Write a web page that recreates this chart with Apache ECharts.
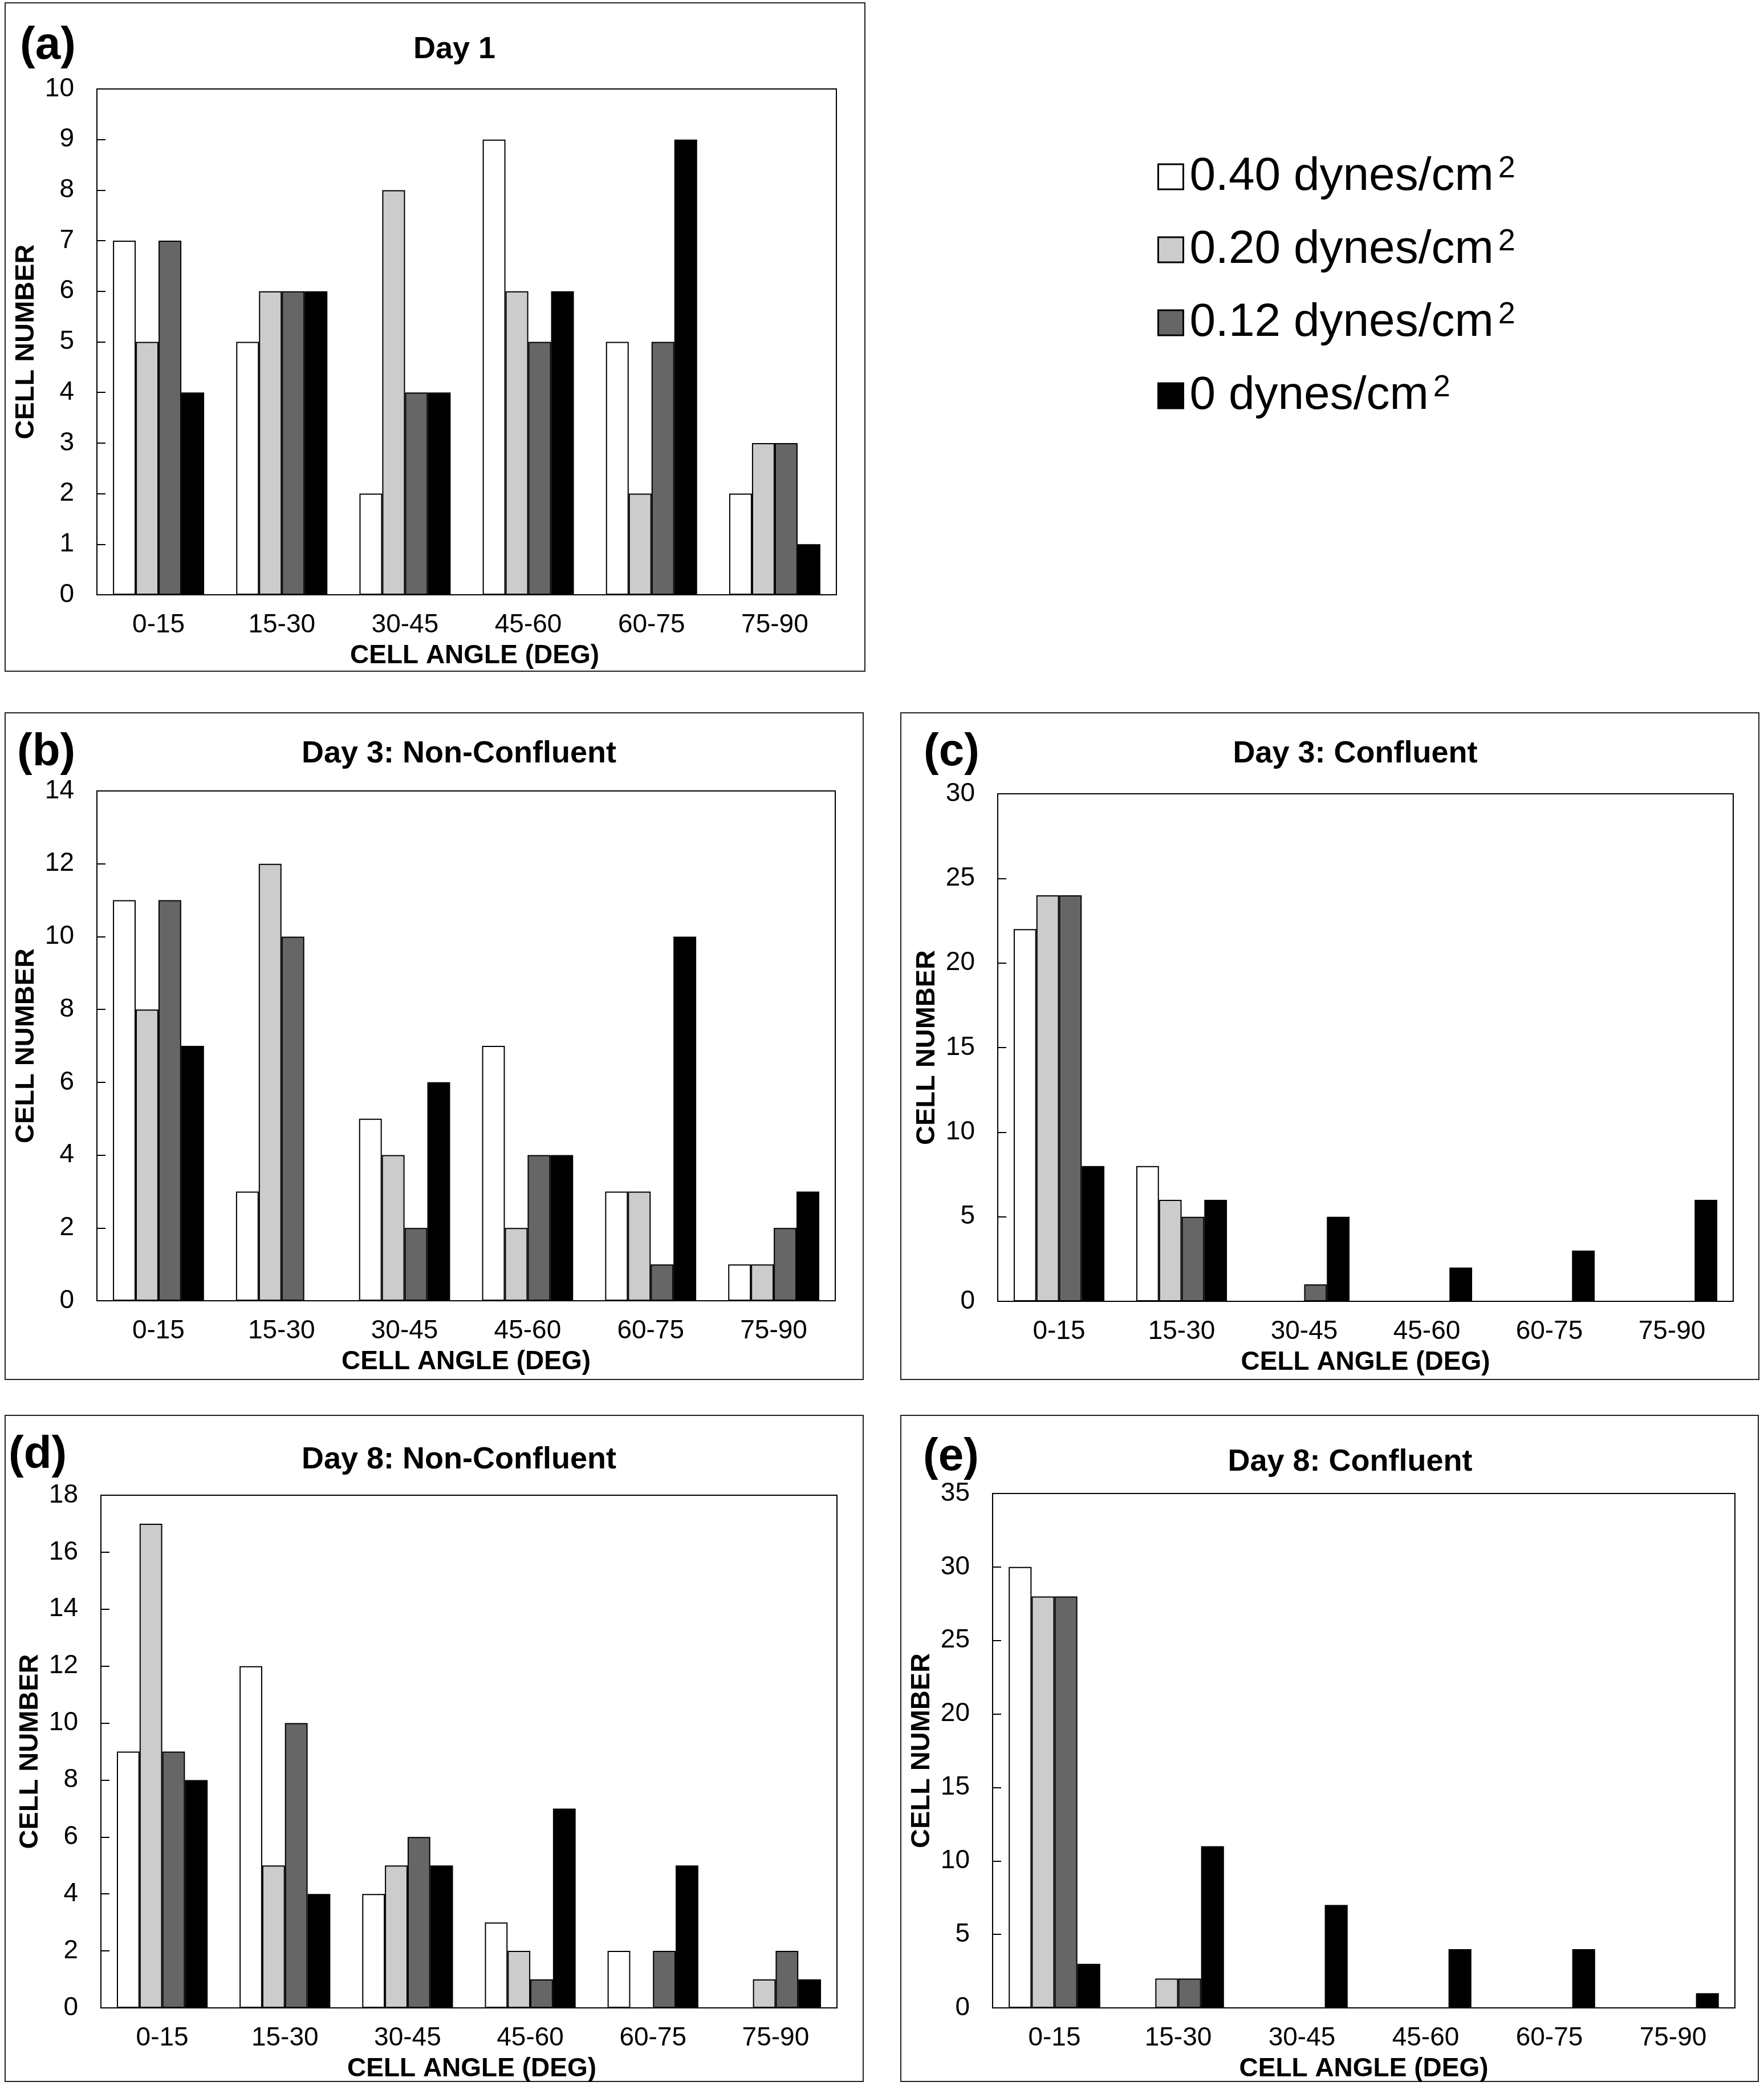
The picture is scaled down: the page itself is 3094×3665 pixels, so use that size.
<!DOCTYPE html>
<html><head><meta charset="utf-8">
<script src="https://cdn.jsdelivr.net/npm/echarts@6/dist/echarts.min.js"></script>
<style>html,body{margin:0;padding:0;background:#fff}#c{width:3094px;height:3665px}</style>
</head><body><div id="c"></div>
<script>
// ---- data ----
const categories = ['0-15', '15-30', '30-45', '45-60', '60-75', '75-90'];
const seriesNames = ['0.40 dynes/cm', '0.20 dynes/cm', '0.12 dynes/cm', '0 dynes/cm'];
const seriesColors = ['#ffffff', '#cccccc', '#666666', '#000000'];

const panelTitles = ['Day 1', 'Day 3: Non-Confluent', 'Day 3: Confluent', 'Day 8: Non-Confluent', 'Day 8: Confluent'];
const panelLetters = ['(a)', '(b)', '(c)', '(d)', '(e)'];
const yMax = [10, 14, 30, 18, 35];
const yInterval = [1, 2, 5, 2, 5];

// Day 1
const a_040 = [7, 5, 2, 9, 5, 2];
const a_020 = [5, 6, 8, 6, 2, 3];
const a_012 = [7, 6, 4, 5, 5, 3];
const a_000 = [4, 6, 4, 6, 9, 1];
// Day 3 non-confluent
const b_040 = [11, 3, 5, 7, 3, 1];
const b_020 = [8, 12, 4, 2, 3, 1];
const b_012 = [11, 10, 2, 4, 1, 2];
const b_000 = [7, 0, 6, 4, 10, 3];
// Day 3 confluent
const c_040 = [22, 8, 0, 0, 0, 0];
const c_020 = [24, 6, 0, 0, 0, 0];
const c_012 = [24, 5, 1, 0, 0, 0];
const c_000 = [8, 6, 5, 2, 3, 6];
// Day 8 non-confluent
const d_040 = [9, 12, 4, 3, 2, 0];
const d_020 = [17, 5, 5, 2, 0, 1];
const d_012 = [9, 10, 6, 1, 2, 2];
const d_000 = [8, 4, 5, 7, 5, 1];
// Day 8 confluent
const e_040 = [30, 0, 0, 0, 0, 0];
const e_020 = [28, 2, 0, 0, 0, 0];
const e_012 = [28, 2, 0, 0, 0, 0];
const e_000 = [3, 11, 7, 4, 4, 1];

const panelData = [
  [a_040, a_020, a_012, a_000],
  [b_040, b_020, b_012, b_000],
  [c_040, c_020, c_012, c_000],
  [d_040, d_020, d_012, d_000],
  [e_040, e_020, e_012, e_000]
];

// ---- layout ----
const F = "'Liberation Sans', Arial, sans-serif";
const grids = [
  { left: 170, top: 156, width: 1297, height: 887 },
  { left: 170, top: 1387, width: 1295, height: 894 },
  { left: 1750, top: 1392, width: 1290, height: 890 },
  { left: 177, top: 2622, width: 1291, height: 899 },
  { left: 1741, top: 2619, width: 1302, height: 902 }
];
const boxes = [
  [9, 5, 1517, 1177],
  [9, 1250, 1514, 2419],
  [1580, 1250, 3085, 2419],
  [9, 2482, 1514, 3650],
  [1580, 2482, 3084, 3650]
];
const titlePos = [[797, 87], [805, 1322], [2377, 1322], [805, 2560], [2368, 2564]];
const letterPos = [[35, 81], [30, 1320], [1620, 1320], [15, 2552], [1619, 2556]];
const xNameShift = [28, 0, 0, 10, 0];

const option = {
  backgroundColor: '#ffffff',
  animation: false,
  grid: grids.map(g => Object.assign({ show: true, borderColor: '#000', borderWidth: 2, backgroundColor: 'transparent', containLabel: false }, g)),
  xAxis: grids.map((g, i) => ({
    type: 'category', gridIndex: i, data: categories,
    name: 'CELL ANGLE (DEG)', nameLocation: 'middle', nameGap: 84,
    nameTextStyle: { fontFamily: F, fontWeight: 'bold', fontSize: 46, color: '#000', padding: [0, 0, 0, xNameShift[i]] },
    axisLine: { lineStyle: { color: '#000', width: 2 } },
    axisTick: { show: false },
    axisLabel: { interval: 0, margin: 30, fontFamily: F, fontSize: 46, color: '#000' },
    splitLine: { show: false }
  })),
  yAxis: grids.map((g, i) => ({
    type: 'value', gridIndex: i, min: 0, max: yMax[i], interval: yInterval[i],
    name: 'CELL NUMBER', nameLocation: 'middle', nameRotate: 90, nameGap: 100,
    nameTextStyle: { fontFamily: F, fontWeight: 'bold', fontSize: 47, color: '#000' },
    axisLine: { show: true, lineStyle: { color: '#000', width: 2 } },
    axisTick: { show: true, inside: true, length: 15, lineStyle: { color: '#000', width: 2 } },
    axisLabel: { margin: 40, fontFamily: F, fontSize: 46, color: '#000' },
    splitLine: { show: false }
  })),
  legend: {
    orient: 'vertical', left: 2025, top: 264,
    itemWidth: 44, itemHeight: 44, itemGap: 46,
    icon: 'rect',
    itemStyle: { borderColor: '#000', borderWidth: 3 },
    data: seriesNames,
    formatter: name => '{a|' + name + '}{s|2}',
    textStyle: {
      color: '#000',
      rich: {
        a: { fontFamily: F, fontSize: 82, color: '#000', padding: [0, 0, 0, 6], lineHeight: 82 },
        s: { fontFamily: F, fontSize: 54, color: '#000', verticalAlign: 'top', padding: [0, 0, 0, 8], lineHeight: 36 }
      }
    }
  },
  series: [],
  graphic: []
};

panelData.forEach((sets, p) => {
  sets.forEach((vals, k) => {
    option.series.push({
      type: 'bar', name: seriesNames[k], xAxisIndex: p, yAxisIndex: p,
      data: vals, barGap: '0%', barCategoryGap: '26%',
      itemStyle: { color: seriesColors[k], borderColor: '#000', borderWidth: 2 },
      emphasis: { disabled: true }
    });
  });
  const b = boxes[p];
  option.graphic.push({
    type: 'rect', shape: { x: b[0], y: b[1], width: b[2] - b[0], height: b[3] - b[1] },
    style: { fill: 'none', stroke: '#222', lineWidth: 2 }, silent: true
  });
  option.graphic.push({
    type: 'text', x: titlePos[p][0], y: titlePos[p][1],
    style: { text: panelTitles[p], fontFamily: F, fontWeight: 'bold', fontSize: 54, fill: '#000', textAlign: 'center', textVerticalAlign: 'middle' }
  });
  option.graphic.push({
    type: 'text', x: letterPos[p][0], y: letterPos[p][1],
    style: { text: panelLetters[p], fontFamily: F, fontWeight: 'bold', fontSize: 80, fill: '#000', textAlign: 'left', textVerticalAlign: 'middle' }
  });
});

const chart = echarts.init(document.getElementById('c'), null, { renderer: 'canvas' });
chart.setOption(option);
</script>
</body></html>
